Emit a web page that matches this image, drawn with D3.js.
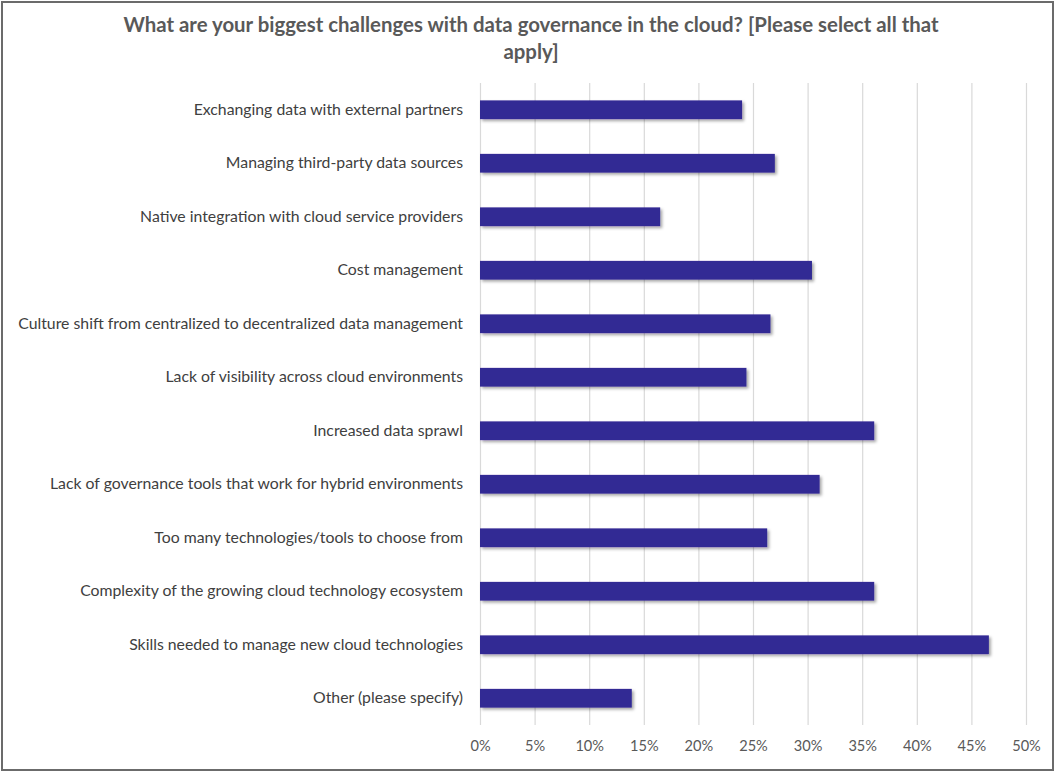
<html>
<head>
<script src="https://cdn.jsdelivr.net/npm/d3@7"></script>
<style>
  body { margin: 0; background: #fff; }
  text { font-family: Lato, "Open Sans", sans-serif; }
</style>
</head>
<body>
<svg width="1057" height="773"></svg>
<script>
// categories top to bottom
var categories = [
  'Exchanging data with external partners',
  'Managing third-party data sources',
  'Native integration with cloud service providers',
  'Cost management',
  'Culture shift from centralized to decentralized data management',
  'Lack of visibility across cloud environments',
  'Increased data sprawl',
  'Lack of governance tools that work for hybrid environments',
  'Too many technologies/tools to choose from',
  'Complexity of the growing cloud technology ecosystem',
  'Skills needed to manage new cloud technologies',
  'Other (please specify)'
]
var values = [0.240, 0.270, 0.165, 0.304, 0.266, 0.244, 0.361, 0.311, 0.263, 0.361, 0.466, 0.139]
var ticks = [0, 0.05, 0.10, 0.15, 0.20, 0.25, 0.30, 0.35, 0.40, 0.45, 0.50]
var titleLines = ['What are your biggest challenges with data governance in the cloud? [Please select all that', 'apply]']

var svg = d3.select('svg')

// frame
svg.append('rect')
  .attr('x', 2).attr('y', 2).attr('width', 1051).attr('height', 768)
  .attr('fill', '#fff').attr('stroke', '#6b6b6b').attr('stroke-width', 2)

var defs = svg.append('defs')
defs.append('filter').attr('id', 'shadow')
  .attr('x', '-5%').attr('y', '-30%').attr('width', '115%').attr('height', '190%')
  .append('feDropShadow')
  .attr('dx', 2).attr('dy', 2).attr('stdDeviation', 1.5)
  .attr('flood-color', '#000').attr('flood-opacity', 0.35)

// plot area ("top" is taken by window.top)
var plotTop = 83, plotBottom = 725, plotLeft = 480, plotRight = 1026

var x = d3.scaleLinear().domain([0, 0.5]).range([plotLeft, plotRight])
var y = d3.scaleBand().domain(categories).range([plotTop, plotBottom])
  .paddingInner(0.65).paddingOuter(0.325)

// title
svg.append('text')
  .attr('x', 531).attr('y', 32)
  .attr('text-anchor', 'middle')
  .attr('font-size', 20.4).attr('font-weight', 'bold').attr('fill', '#595959')
  .selectAll('tspan')
  .data(titleLines)
  .enter()
  .append('tspan')
  .attr('x', 531)
  .attr('dy', function(d, i) { return i == 0 ? 0 : 27 })
  .text(function(d) { return d })

// gridlines + x labels
var xAxis = svg.append('g')
  .attr('transform', 'translate(0,' + plotBottom + ')')
  .call(d3.axisBottom(x).tickValues(ticks).tickSize(-(plotBottom - plotTop)).tickPadding(16).tickFormat(d3.format('.0%')))
xAxis.select('.domain').remove()
xAxis.selectAll('line').attr('stroke', '#d9d9d9').attr('stroke-width', 1.2)
xAxis.selectAll('text').attr('font-size', 14.6).attr('fill', '#595959')

// category labels
var yAxis = svg.append('g')
  .attr('transform', 'translate(' + plotLeft + ',0)')
  .call(d3.axisLeft(y).tickSize(0).tickPadding(17))
yAxis.select('.domain').remove()
yAxis.selectAll('text').attr('font-size', 15.8).attr('fill', '#404040')

// bars
svg.selectAll('rect.bar')
  .data(values)
  .enter()
  .append('rect')
  .attr('class', 'bar')
  .attr('x', x(0))
  .attr('y', function(d, i) { return y(categories[i]) })
  .attr('width', function(d) { return x(d) - x(0) })
  .attr('height', y.bandwidth())
  .attr('fill', '#312a94')
  .attr('filter', 'url(#shadow)')
</script>
</body>
</html>
